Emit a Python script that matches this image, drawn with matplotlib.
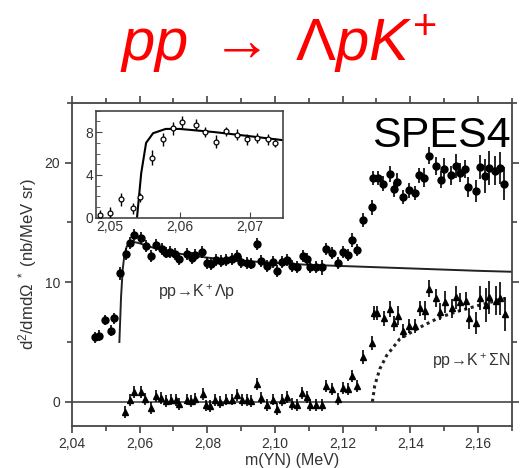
import numpy as np
import matplotlib
matplotlib.use("Agg")
import matplotlib.pyplot as plt
from matplotlib.ticker import MultipleLocator, FuncFormatter

plt.rcParams['font.family'] = ['Liberation Sans', 'DejaVu Sans']
plt.rcParams['mathtext.fontset'] = 'custom'
plt.rcParams['mathtext.rm'] = 'Liberation Sans'
plt.rcParams['mathtext.it'] = 'Liberation Sans:italic'

# pp -> K+ Lambda p, data (circles)
lam_m = [2.0467, 2.0481, 2.0498, 2.0515, 2.0524, 2.0543, 2.0560, 2.0572, 2.0584, 2.0604,
         2.0619, 2.0633, 2.0648, 2.0665, 2.0678, 2.0690, 2.0703, 2.0717, 2.0739, 2.0754,
         2.0765, 2.0784, 2.0798, 2.0812, 2.0826, 2.0841, 2.0856, 2.0872, 2.0887, 2.0901,
         2.0916, 2.0930, 2.0947, 2.0959, 2.0975, 2.0993, 2.1006, 2.1020, 2.1036, 2.1049,
         2.1066, 2.1082, 2.1096, 2.1105, 2.1121, 2.1138, 2.1152, 2.1170, 2.1185, 2.1201,
         2.1216, 2.1229, 2.1244, 2.1259, 2.1287, 2.1291, 2.1305, 2.1320, 2.1339, 2.1351,
         2.1362, 2.1379, 2.1395, 2.1413, 2.1426, 2.1441, 2.1455, 2.1477, 2.1490, 2.1500,
         2.1520, 2.1536, 2.1546, 2.1561, 2.1571, 2.1593, 2.1607, 2.1622, 2.1633, 2.1650,
         2.1664, 2.1677]
lam_v = [5.39, 5.53, 6.83, 5.94, 6.98, 10.73, 12.38, 13.31, 13.92, 13.73,
         13.03, 12.19, 13.11, 12.75, 12.48, 12.56, 12.39, 11.92, 12.38, 12.06,
         12.25, 12.50, 11.64, 11.54, 11.88, 11.75, 11.88, 11.92, 12.21, 11.67,
         11.64, 11.56, 13.21, 11.75, 11.36, 11.69, 10.94, 11.67, 11.88, 11.38,
         11.23, 12.21, 11.92, 11.23, 11.23, 11.23, 12.75, 12.42, 11.61, 12.52,
         12.31, 13.54, 12.67, 15.19, 16.25, 18.73, 18.73, 18.25, 19.06, 17.75,
         18.36, 17.14, 17.67, 17.48, 18.92, 18.73, 20.58, 19.75, 18.58, 19.47,
         18.92, 19.75, 19.14, 19.47, 17.97, 17.61, 19.64, 18.86, 19.56, 19.33,
         19.56, 18.25]
lam_err = [0.45, 0.45, 0.45, 0.45, 0.45, 0.55, 0.5, 0.5, 0.5, 0.5,
           0.5, 0.5, 0.5, 0.5, 0.5, 0.5, 0.5, 0.5, 0.5, 0.5,
           0.5, 0.5, 0.5, 0.5, 0.5, 0.5, 0.5, 0.5, 0.5, 0.5,
           0.5, 0.5, 0.5, 0.5, 0.5, 0.5, 0.5, 0.5, 0.5, 0.5,
           0.5, 0.5, 0.5, 0.5, 0.5, 0.6, 0.5, 0.5, 0.5, 0.5,
           0.5, 0.6, 0.5, 0.6, 0.6, 0.6, 0.6, 0.6, 0.65, 0.6,
           0.8, 0.6, 0.6, 0.6, 0.6, 0.8, 0.7, 0.75, 0.7, 0.9,
           0.8, 1.0, 0.8, 0.75, 0.85, 0.9, 1.0, 1.4, 1.4, 1.2,
           1.35, 1.4]

# residual / pp -> K+ Sigma N (triangles)
sig_m = [2.0557, 2.0572, 2.0584, 2.0605, 2.0617, 2.0633, 2.0649, 2.0664, 2.0678, 2.0692,
         2.0708, 2.0717, 2.0740, 2.0752, 2.0764, 2.0786, 2.0796, 2.0809, 2.0823, 2.0838,
         2.0855, 2.0873, 2.0887, 2.0902, 2.0917, 2.0929, 2.0946, 2.0960, 2.0975, 2.0993,
         2.1006, 2.1021, 2.1036, 2.1049, 2.1066, 2.1081, 2.1096, 2.1105, 2.1121, 2.1138,
         2.1152, 2.1170, 2.1185, 2.1201, 2.1216, 2.1228, 2.1244, 2.1260, 2.1288, 2.1292,
         2.1303, 2.1322, 2.1339, 2.1351, 2.1364, 2.1379, 2.1396, 2.1413, 2.1428, 2.1443,
         2.1455, 2.1477, 2.1489, 2.1502, 2.1522, 2.1536, 2.1546, 2.1564, 2.1573, 2.1593,
         2.1607, 2.1625, 2.1632, 2.1653, 2.1666, 2.1679]
sig_v = [-0.86, 0.11, 0.81, 0.81, 0.25, -0.53, 0.47, 0.31, 0.03, 0.19,
         0.11, -0.17, 0.19, 0.03, 0.25, 0.67, -0.31, -0.39, 0.11, -0.03,
         0.19, 0.19, 0.58, 0.11, 0.11, 0.03, 1.50, 0.31, -0.25, 0.19,
         -0.58, 0.11, 0.39, -0.17, -0.25, 0.75, 0.39, -0.25, -0.25, -0.25,
         1.31, 1.08, 0.25, 1.14, 1.03, 2.19, 1.31, 3.72, 4.92, 7.42,
         7.42, 6.97, 7.75, 6.55, 7.20, 5.94, 6.36, 6.31, 7.81, 7.61,
         9.47, 8.64, 7.53, 8.36, 7.81, 8.72, 8.31, 8.44, 6.97, 6.58,
         8.64, 8.08, 8.72, 8.44, 8.64, 7.33]
sig_err = [0.5] * 47 + [0.6, 0.6, 0.6, 0.6, 0.6, 0.65, 0.6, 0.8, 0.6, 0.6,
                        0.6, 0.6, 0.8, 0.7, 0.75, 0.7, 0.9, 0.8, 1.0, 0.8,
                        0.75, 0.85, 0.9, 1.0, 1.4, 1.4, 1.2, 1.35, 1.4]

# fit curve for K+ Lambda p (solid)
fit_m = [2.0540, 2.0545, 2.0550, 2.0555, 2.0562, 2.0572, 2.0585, 2.0600, 2.0620, 2.0650,
         2.0700, 2.0750, 2.0800, 2.0900, 2.1000, 2.1100, 2.1200, 2.1300, 2.1400, 2.1500,
         2.1600, 2.1700]
fit_v = [5.0, 8.8, 11.1, 12.3, 13.0, 13.3, 13.35, 13.25, 13.05, 12.8,
         12.45, 12.25, 12.05, 11.8, 11.6, 11.45, 11.35, 11.25, 11.15, 11.05,
         10.95, 10.87]

# K+ Sigma N threshold curve (dotted)
sn_m = [2.1288, 2.1295, 2.1310, 2.1330, 2.1369, 2.1428, 2.1487, 2.1546, 2.1605, 2.1680]
sn_v = [0.0, 1.36, 2.75, 3.86, 5.25, 6.22, 7.06, 7.61, 8.08, 8.64]

# inset: threshold region
ins_m = [2.04867, 2.0501, 2.05167, 2.05333, 2.05439, 2.05604, 2.05761, 2.05904, 2.06033,
         2.06229, 2.06367, 2.06524, 2.06667, 2.06824, 2.06961, 2.07110, 2.07261, 2.07357]
ins_v = [0.25, 0.47, 1.72, 0.88, 1.91, 5.62, 7.34, 8.37, 8.94,
         8.71, 8.00, 7.12, 8.06, 7.75, 7.34, 7.44, 7.34, 7.03]
ins_err = [0.5, 0.5, 0.6, 0.5, 0.4, 0.7, 0.6, 0.6, 0.6,
           0.5, 0.5, 0.6, 0.4, 0.5, 0.5, 0.5, 0.5, 0.4]
ins_fit_m = [2.0539, 2.0545, 2.0552, 2.0562, 2.0580, 2.0600, 2.0650, 2.0700, 2.0747]
ins_fit_v = [0.0, 4.16, 7.0, 7.9, 8.3, 8.3, 8.0, 7.62, 7.25]

grey = '#444444'
comma = FuncFormatter(lambda x, p: ('%.2f' % x).replace('.', ','))

fig = plt.figure(figsize=(5.2, 4.68), dpi=100)
ax = fig.add_axes([0.1385, 0.0904, 0.8456, 0.690])

ax.axhline(0, color='#555555', lw=1.3, zorder=1)
ax.plot(fit_m, fit_v, color='#222222', lw=1.4, zorder=2)
ax.plot(sn_m, sn_v, color='#222222', lw=2.2, ls=(0, (1, 1.2)), zorder=2)
ax.errorbar(lam_m, lam_v, yerr=lam_err, fmt='o', color='black', ms=5,
            elinewidth=1.2, capsize=0, zorder=3)
ax.errorbar(sig_m, sig_v, yerr=sig_err, fmt='^', color='black', ms=5,
            elinewidth=1.2, capsize=0, zorder=3)

ax.set_xlim(2.04, 2.17)
ax.set_ylim(-2, 25)
ax.xaxis.set_major_locator(MultipleLocator(0.02))
ax.xaxis.set_minor_locator(MultipleLocator(0.01))
ax.yaxis.set_major_locator(MultipleLocator(10))
ax.yaxis.set_minor_locator(MultipleLocator(5))
ax.xaxis.set_major_formatter(comma)
ax.yaxis.set_major_formatter(FuncFormatter(lambda y, p: '%d' % y))
ax.tick_params(which='both', direction='out', top=True, right=True,
               labeltop=False, labelright=False, color=grey, width=1.2,
               labelsize=10, labelcolor='#333333')
ax.tick_params(which='major', length=5)
ax.tick_params(which='minor', length=3.5)
for s in ax.spines.values():
    s.set_color(grey)
    s.set_linewidth(1.3)

ax.set_xlabel('m(YN) (MeV)', fontsize=11.5, color='#333333', labelpad=1)
ax.set_ylabel(r'd$^2$/dmd$\Omega$ $^*$ (nb/MeV sr)', fontsize=12, color='#333333', labelpad=4)

ax.text(2.0655, 8.8, r'pp$\!\rightarrow\!$K$^+$Λp', fontsize=11.5, color='#333333')
ax.text(2.1465, 3.0, r'pp$\!\rightarrow\!$K$^+$ΣN', fontsize=11.5, color='#333333')
ax.text(2.1698, 21.3, 'SPES4', fontsize=31, color='black', ha='right', va='baseline')

# inset
axi = fig.add_axes([0.184, 0.5348, 0.3596, 0.2286])
axi.plot(ins_fit_m, ins_fit_v, color='black', lw=1.5, zorder=2)
axi.errorbar(ins_m, ins_v, yerr=ins_err, fmt='o', color='black', ms=3.5,
             mfc='white', mew=0.9, elinewidth=1.0, capsize=0, zorder=3)
axi.set_xlim(2.048, 2.0747)
axi.set_ylim(0, 10)
axi.xaxis.set_major_locator(MultipleLocator(0.01))
axi.yaxis.set_major_locator(MultipleLocator(4))
axi.yaxis.set_minor_locator(MultipleLocator(1))
axi.xaxis.set_major_formatter(comma)
axi.tick_params(which='both', direction='in', labelsize=10, color=grey,
                labelcolor='#333333', pad=2)
axi.tick_params(which='major', length=4)
axi.tick_params(which='minor', length=3)
for s in axi.spines.values():
    s.set_color(grey)
    s.set_linewidth(1.2)

fig.text(0.535, 0.905, r'$pp\;\rightarrow\;ΛpK^{+}$', fontsize=43, color='red',
         ha='center', va='center')

fig.savefig('out.png', dpi=100)
